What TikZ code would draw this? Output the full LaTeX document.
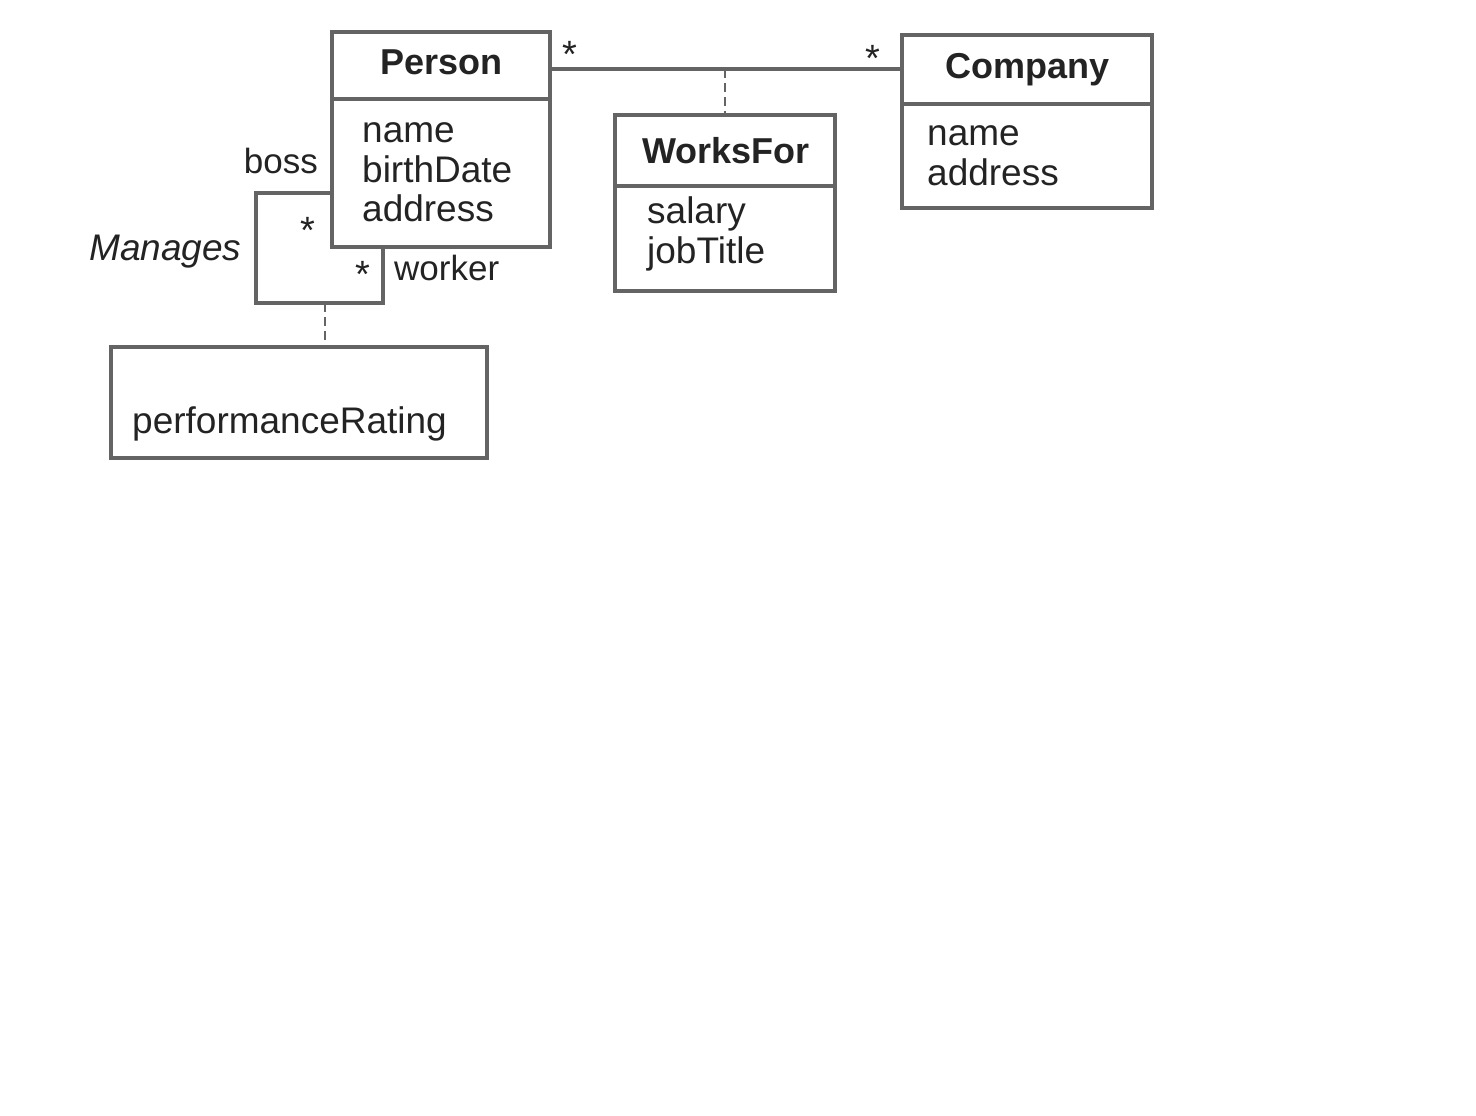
\documentclass[tikz,border=0pt]{standalone}
\usepackage{fontspec}
\setmainfont{Liberation Sans}
\definecolor{linec}{RGB}{100,100,100}
\definecolor{txtc}{RGB}{35,35,35}
\tikzset{
  umlbox/.style={draw=linec, line width=3.2pt, rectangle, inner sep=0pt},
  conn/.style={draw=linec, line width=3.2pt},
  dashconn/.style={draw=linec, line width=2.6pt, dash pattern=on 9pt off 5pt},
  ttl/.style={anchor=base, inner sep=0pt, text=txtc, font=\fontsize{36}{40}\selectfont\bfseries},
  attr/.style={anchor=base west, inner sep=0pt, text=txtc, font=\fontsize{37}{40}\selectfont},
  mult/.style={anchor=base, inner sep=0pt, text=txtc, font=\fontsize{38}{44}\selectfont},
}
\begin{document}
\begin{tikzpicture}[x=1pt,y=-1pt]
\useasboundingbox (0,0) rectangle (1476,1116);
% boxes
\node[umlbox, minimum width=218pt, minimum height=215pt] (person) at (441,139.5) {};
\node[umlbox, minimum width=250pt, minimum height=173pt] (company) at (1027,121.5) {};
\node[umlbox, minimum width=220pt, minimum height=176pt] (worksfor) at (725,203) {};
\node[umlbox, minimum width=376pt, minimum height=111pt] (perf) at (299,402.5) {};
% compartment separators
\coordinate (psep) at (0,99);
\coordinate (csep) at (0,104);
\coordinate (wsep) at (0,186);
\draw[conn] (person.west |- psep) -- (person.east |- psep);
\draw[conn] (company.west |- csep) -- (company.east |- csep);
\draw[conn] (worksfor.west |- wsep) -- (worksfor.east |- wsep);
% titles
\node[ttl] (ptitle) at (441.5,75) {Person};
\node[ttl] (ctitle) at (1027.5,78) {Company};
\node[ttl] (wtitle) at (726,163) {WorksFor};
% attributes
\node[attr] (pa1) at (362,142) {name};
\node[attr] (pa2) at (362,182) {birthDate};
\node[attr] (pa3) at (362,221) {address};
\node[attr] (ca1) at (927,145) {name};
\node[attr] (ca2) at (927,185) {address};
\node[attr] (wa1) at (647,223) {salary};
\node[attr] (wa2) at (647,263) {jobTitle};
\node[attr] (pr1) at (132,433) {performanceRating};
% WorksFor association
\coordinate (arow) at (0,69);
\coordinate (amid) at (725,69);
\draw[conn] (person.east |- arow) -- (company.west |- arow);
\draw[dashconn] (amid) -- (worksfor.north);
\node[mult] (m1) at (570,68) {*};
\node[mult] (m2) at (873,72) {*};
% Manages self association
\coordinate (bossend) at (332,193);
\coordinate (lc1) at (256,193);
\coordinate (lc2) at (256,303);
\coordinate (mmid) at (325,303);
\coordinate (lc3) at (383,303);
\coordinate (workerend) at (383,247);
\draw[conn] (person.west |- bossend) -- (lc1) -- (lc2) -- (lc3) -- (person.south -| workerend);
\draw[dashconn] (mmid) -- (mmid |- perf.north);
\node[mult] (m3) at (308,243) {*};
\node[mult] (m4) at (363,287) {*};
\node[attr, anchor=base east, font=\fontsize{35}{40}\selectfont] (boss) at (318,173) {boss};
\node[attr, font=\fontsize{37}{40}\selectfont\itshape] (manages) at (89,260) {Manages};
\node[attr, font=\fontsize{35}{40}\selectfont] (worker) at (394,280) {worker};
\end{tikzpicture}
\end{document}
